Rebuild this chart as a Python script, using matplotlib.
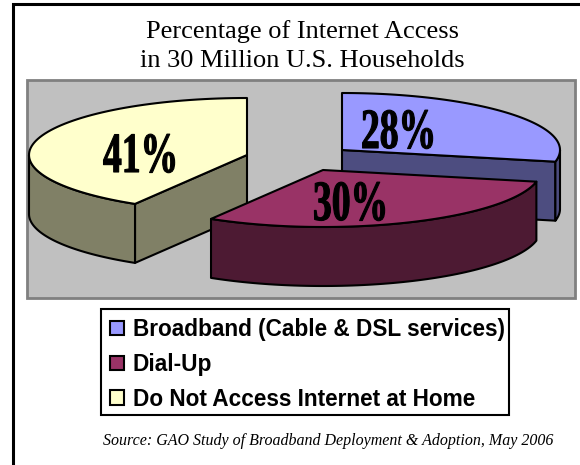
import numpy as np
import matplotlib
matplotlib.use("Agg")
import matplotlib.pyplot as plt
from matplotlib.patches import Polygon, Rectangle, Patch
from matplotlib.patheffects import AbstractPathEffect
from matplotlib.transforms import Affine2D

# Dados do gráfico
categorias = ["Broadband (Cable & DSL services)", "Dial-Up", "Do Not Access Internet at Home"]
percentuais = [28, 30, 41]
cores_topo = ["#9999FF", "#993366", "#FFFFCC"]
cores_lado = ["#4D4D80", "#4D1A33", "#808066"]

titulo = "Percentage of Internet Access\nin 30 Million U.S. Households"
fonte = "Source: GAO Study of Broadband Deployment & Adoption, May 2006"

# Geometria da pizza em pixels
RAIO_X = 218
RAIO_Y = 57
ALTURA = 59
centros = [(342, 150), (323, 170), (247, 155)]
pos_rotulos = [(361, 148), (313, 220), (103, 172)]
ordem_desenho = [0, 2, 1]


class Estreito(AbstractPathEffect):
    # Comprime o texto na horizontal, a partir da origem do texto, e engrossa o traço
    def __init__(self, fator, traco=0.8):
        super().__init__()
        self.fator = fator
        self.traco = traco

    def draw_path(self, renderer, gc, tpath, affine, rgbFace=None):
        gc0 = renderer.new_gc()
        gc0.copy_properties(gc)
        gc0.set_linewidth(self.traco)
        gc0.set_foreground("black")
        renderer.draw_path(gc0, tpath, Affine2D().scale(self.fator, 1) + affine, rgbFace)
        gc0.restore()


def ponto_borda(centro, graus):
    # Ângulo em graus, sentido horário a partir do topo
    rad = np.radians(graus)
    return centro[0] + RAIO_X * np.sin(rad), centro[1] - RAIO_Y * np.cos(rad)


def arco(centro, ini, fim):
    graus = np.linspace(ini, fim, 80)
    x, y = ponto_borda(centro, graus)
    return np.column_stack([x, y])


def desenha_fatia(ax, centro, ini, fim, topo, lado):
    c = np.array(centro, dtype=float)
    queda = np.array([0, ALTURA])
    estilo = dict(edgecolor="black", linewidth=1.5, joinstyle="round")

    # Faces retas que ficam viradas para a frente
    for graus, visivel in ((ini, 180 < ini < 270), (fim, 90 < fim < 180)):
        if visivel:
            p = np.array(ponto_borda(centro, graus))
            ax.add_patch(Polygon([c, p, p + queda, c + queda], facecolor=lado, **estilo))

    # Parede externa, só a metade da frente
    a, b = max(ini, 90), min(fim, 270)
    if a < b:
        borda = arco(centro, a, b)
        ax.add_patch(Polygon(np.vstack([borda, (borda + queda)[::-1]]), facecolor=lado, **estilo))

    # Tampo
    ax.add_patch(Polygon(np.vstack([c, arco(centro, ini, fim)]), facecolor=topo, **estilo))


fig = plt.figure(figsize=(5.8, 4.65), dpi=100)
ax = fig.add_axes([0, 0, 1, 1])
ax.set_xlim(0, 580)
ax.set_ylim(465, 0)
ax.axis("off")

# Moldura só no topo e na esquerda
ax.plot([12.5, 12.5, 580], [465, 4.5, 4.5], color="black", linewidth=2.2, solid_joinstyle="miter")

ax.text(302, 46, titulo, ha="center", va="center", family="Liberation Serif",
        fontsize=19, linespacing=1.42, color="black")

# Fundo cinza
ax.add_patch(Rectangle((26.5, 80.5), 548, 217, facecolor="#C0C0C0", edgecolor="#808080", linewidth=2))

# Fatias
fracoes = np.array(percentuais) / sum(percentuais) * 360
fins = np.cumsum(fracoes)
inicios = fins - fracoes
for i in ordem_desenho:
    desenha_fatia(ax, centros[i], inicios[i], fins[i], cores_topo[i], cores_lado[i])

for p, (x, y) in zip(percentuais, pos_rotulos):
    ax.text(x, y, f"{p}%", family="Liberation Serif", weight="bold", fontsize=41,
            ha="left", va="baseline", color="black", path_effects=[Estreito(0.66)])

# Legenda, com a caixa desenhada à parte para ficar mais justa
ax.add_patch(Rectangle((100.5, 308.5), 408, 106.5, facecolor="white", edgecolor="black", linewidth=1.5))
handles = [Patch(facecolor=c, edgecolor="black", linewidth=1.5) for c in cores_topo]
ax.legend(handles, categorias, loc="upper left", bbox_to_anchor=(100.5 / 580, 1 - 308 / 465),
          prop=dict(family="Liberation Sans", weight="bold", size=16.3),
          frameon=False, handlelength=0.58, handleheight=0.58, handletextpad=0.4,
          labelspacing=0.52, borderpad=0.44, borderaxespad=0)

ax.text(103, 445, fonte, family="Liberation Serif", style="italic", fontsize=11.55,
        ha="left", va="baseline", color="black")

plt.savefig("out.png", dpi=100)
